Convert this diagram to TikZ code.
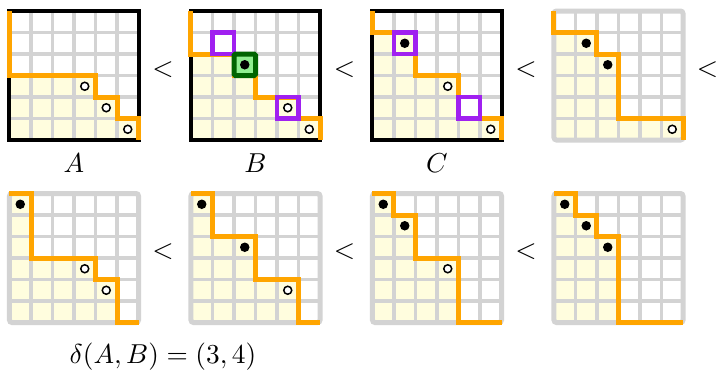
\documentclass[tikz,border=0pt]{standalone}
\definecolor{stair}{RGB}{255,165,0}
\definecolor{cellfill}{RGB}{255,253,222}
\definecolor{gridgray}{RGB}{211,211,211}
\definecolor{markpurple}{RGB}{160,32,240}
\definecolor{markgreen}{RGB}{0,100,0}
\definecolor{markfill}{RGB}{144,238,144}

% one 6x6 panel: #1 origin, #2 frame style, #3 staircase path, #4 markers
\newcommand\stairpanel[4]{%
  \begin{scope}[shift={#1},x=8.6pt,y=-8.6pt]
    \fill[region] #3 -- (0,6) -- cycle;
    \foreach \k in {1,...,5}{
      \draw[gridlines] (\k,0) -- (\k,6);
      \draw[gridlines] (0,\k) -- (6,\k);
    }
    \draw[#2] (0,0) rectangle (6,6);
    \draw[staircase] #3;
    #4
  \end{scope}}
\newcommand\fulldot[2]{\fill (#1+0.5,#2+0.5) circle (1.9pt);}
\newcommand\emptydot[2]{\draw[line width=0.6pt,fill=white] (#1+0.5,#2+0.5) circle (1.6pt);}
\newcommand\purplebox[2]{\draw[markpurple,line width=1.8pt] (#1,#2) rectangle (#1+1,#2+1);}
\newcommand\greenbox[2]{\draw[markgreen,line width=2pt,fill=markfill,rounded corners=0.6pt] (#1,#2) rectangle (#1+1,#2+1);}

\begin{document}
\begin{tikzpicture}[x=0.4pt,y=-0.4pt,
  font=\fontsize{10.7}{13}\selectfont,
  region/.style={fill=cellfill},
  gridlines/.style={gridgray,line width=1.3pt},
  darkframe/.style={black,line width=1.6pt},
  lightframe/.style={gridgray,line width=2pt,rounded corners=1pt},
  staircase/.style={stair,line width=2pt},
  lbl/.style={anchor=base,inner sep=0pt}]
\useasboundingbox (0,0) rectangle (716,369);

% top row
\stairpanel{(9.5,11)}{darkframe}
  {(0,0) -- (0,3) -- (4,3) -- (4,4) -- (5,4) -- (5,5) -- (6,5) -- (6,6)}
  {\emptydot{3}{3}\emptydot{4}{4}\emptydot{5}{5}}
\stairpanel{(191,11)}{darkframe}
  {(0,0) -- (0,2) -- (2,2) -- (2,3) -- (3,3) -- (3,4) -- (4,4) -- (5,4) -- (5,5) -- (6,5) -- (6,6)}
  {\purplebox{1}{1}\purplebox{4}{4}\greenbox{2}{2}\fulldot{2}{2}\emptydot{4}{4}\emptydot{5}{5}}
\stairpanel{(372.5,11)}{darkframe}
  {(0,0) -- (0,1) -- (2,1) -- (2,3) -- (4,3) -- (4,5) -- (6,5) -- (6,6)}
  {\purplebox{1}{1}\purplebox{4}{4}\fulldot{1}{1}\emptydot{3}{3}\emptydot{5}{5}}
\stairpanel{(554,11)}{lightframe}
  {(0,0) -- (0,1) -- (2,1) -- (2,2) -- (3,2) -- (3,5) -- (6,5) -- (6,6)}
  {\fulldot{1}{1}\fulldot{2}{2}\emptydot{5}{5}}

% bottom row
\stairpanel{(9.5,193.5)}{lightframe}
  {(0,0) -- (1,0) -- (1,3) -- (4,3) -- (4,4) -- (5,4) -- (5,6) -- (6,6)}
  {\fulldot{0}{0}\emptydot{3}{3}\emptydot{4}{4}}
\stairpanel{(191,193.5)}{lightframe}
  {(0,0) -- (1,0) -- (1,2) -- (3,2) -- (3,4) -- (5,4) -- (5,6) -- (6,6)}
  {\fulldot{0}{0}\fulldot{2}{2}\emptydot{4}{4}}
\stairpanel{(372.5,193.5)}{lightframe}
  {(0,0) -- (1,0) -- (1,1) -- (2,1) -- (2,3) -- (4,3) -- (4,6) -- (6,6)}
  {\fulldot{0}{0}\fulldot{1}{1}\emptydot{3}{3}}
\stairpanel{(554,193.5)}{lightframe}
  {(0,0) -- (1,0) -- (1,1) -- (2,1) -- (2,2) -- (3,2) -- (3,6) -- (6,6)}
  {\fulldot{0}{0}\fulldot{1}{1}\fulldot{2}{2}}

% order signs
\node[lbl] (lt1) at (163,76.5) {$<$};
\node[lbl] (lt2) at (344.5,76.5) {$<$};
\node[lbl] (lt3) at (526,76.5) {$<$};
\node[lbl] (lt4) at (707.5,76.5) {$<$};
\node[lbl] (lt5) at (163,258) {$<$};
\node[lbl] (lt6) at (344.5,258) {$<$};
\node[lbl] (lt7) at (526,258) {$<$};

% names and distance
\node[lbl] (nameA) at (74,172) {$A$};
\node[lbl] (nameB) at (255.5,172) {$B$};
\node[lbl] (nameC) at (437,172) {$C$};
\node[lbl] (dist) at (163,363) {$\delta(A,B)=(3,4)$};
\end{tikzpicture}
\end{document}
